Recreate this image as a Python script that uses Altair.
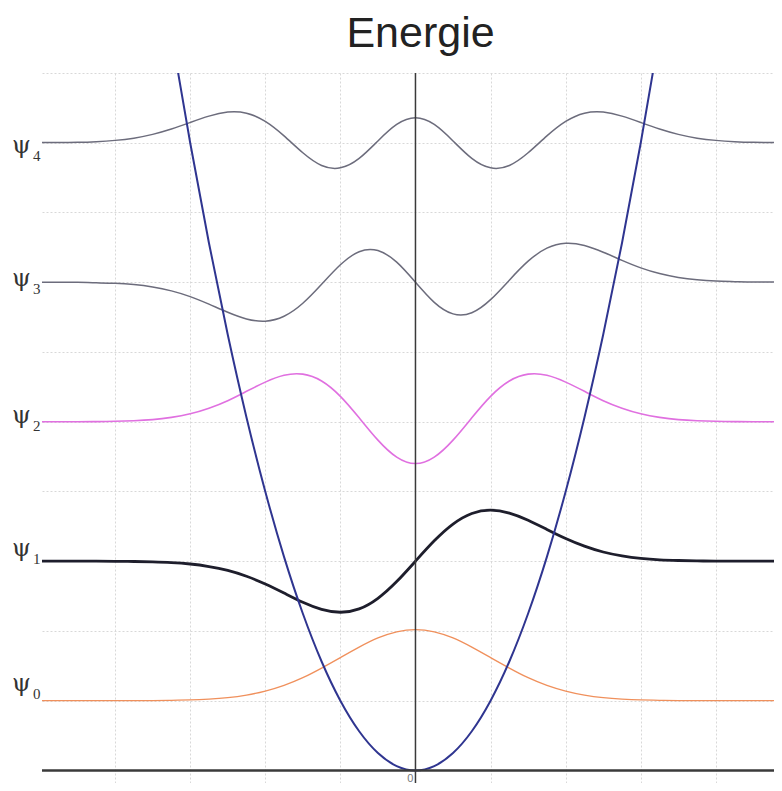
import altair as alt
import pandas as pd

TITLE = "Energie"

# sample positions along x (dimensionless oscillator coordinate)
X = [-5.0, -4.75, -4.5, -4.25, -4.0, -3.75, -3.5, -3.25, -3.0, -2.75, -2.5,
     -2.25, -2.0, -1.75, -1.5, -1.25, -1.0, -0.75, -0.5, -0.25, 0.0,
     0.25, 0.5, 0.75, 1.0, 1.25, 1.5, 1.75, 2.0, 2.25, 2.5,
     2.75, 3.0, 3.25, 3.5, 3.75, 4.0, 4.25, 4.5, 4.75, 5.0]

# wavefunction displacement from its own level (energy units)
PSI0 = [0, 0, 0, 0, 0, 0, 0.001, 0.003, 0.006, 0.012, 0.022, 0.040, 0.069, 0.110,
        0.165, 0.234, 0.309, 0.384, 0.450, 0.494, 0.510,
        0.494, 0.450, 0.384, 0.309, 0.234, 0.165, 0.110, 0.069, 0.040, 0.022,
        0.012, 0.006, 0.003, 0.001, 0, 0, 0, 0, 0, 0]
PSI1 = [0, 0, 0, 0, -0.001, -0.002, -0.005, -0.010, -0.020, -0.038, -0.066, -0.108,
        -0.163, -0.228, -0.294, -0.345, -0.366, -0.342, -0.266, -0.146, 0.0,
        0.146, 0.266, 0.342, 0.366, 0.345, 0.294, 0.228, 0.163, 0.108, 0.066,
        0.038, 0.020, 0.010, 0.005, 0.002, 0.001, 0, 0, 0, 0]
PSI2 = [0, 0, 0, 0.001, 0.003, 0.007, 0.015, 0.031, 0.057, 0.097, 0.151, 0.218,
        0.284, 0.333, 0.341, 0.292, 0.182, 0.028, -0.132, -0.254, -0.300,
        -0.254, -0.132, 0.028, 0.182, 0.292, 0.341, 0.333, 0.284, 0.218, 0.151,
        0.097, 0.057, 0.031, 0.015, 0.007, 0.003, 0.001, 0, 0, 0]
PSI3 = [0, -0.001, -0.001, -0.004, -0.008, -0.017, -0.034, -0.062, -0.103, -0.157,
        -0.215, -0.263, -0.279, -0.244, -0.151, -0.015, 0.125, 0.219, 0.227, 0.144, 0.0,
        -0.144, -0.227, -0.219, -0.125, 0.015, 0.151, 0.244, 0.279, 0.263, 0.215,
        0.157, 0.103, 0.062, 0.034, 0.017, 0.008, 0.004, 0.001, 0.001, 0]
PSI4 = [0.001, 0.001, 0.003, 0.008, 0.017, 0.033, 0.060, 0.098, 0.145, 0.191,
        0.220, 0.212, 0.153, 0.049, -0.072, -0.163, -0.180, -0.112, 0.013, 0.131, 0.179,
        0.131, 0.013, -0.112, -0.180, -0.163, -0.072, 0.049, 0.153, 0.212, 0.220,
        0.191, 0.145, 0.098, 0.060, 0.033, 0.017, 0.008, 0.003, 0.001, 0.001]
PSIS = [PSI0, PSI1, PSI2, PSI3, PSI4]

LEVELS = [0.5, 1.5, 2.5, 3.5, 4.5]
NAMES = ["ψ", "ψ", "ψ", "ψ", "ψ"]
SUBS = ["0", "1", "2", "3", "4"]

# potential curve
PARA_X = [-3.25, -3.0, -2.75, -2.5, -2.25, -2.0, -1.75, -1.5, -1.25, -1.0, -0.75,
          -0.5, -0.25, 0.0, 0.25, 0.5, 0.75, 1.0, 1.25, 1.5, 1.75, 2.0, 2.25,
          2.5, 2.75, 3.0, 3.25]
PARA_V = [5.281, 4.5, 3.781, 3.125, 2.531, 2.0, 1.531, 1.125, 0.781, 0.5, 0.281,
          0.125, 0.031, 0.0, 0.031, 0.125, 0.281, 0.5, 0.781, 1.125, 1.531, 2.0,
          2.531, 3.125, 3.781, 4.5, 5.281]

GRID_X = [-4, -3, -2, -1, 0, 1, 2, 3, 4]
GRID_Y = [0, 0.5, 1, 1.5, 2, 2.5, 3, 3.5, 4, 4.5, 5]

# styles
COLORS = ["#f0905c", "#1e1e2c", "#e070e0", "#6c6c7c", "#6c6c7c"]
WIDTHS = [1.3, 2.8, 1.6, 1.5, 1.5]
LABEL_DY = [-10, -5, 1, 4, 10]

XS = alt.Scale(domain=[-4.973, 4.774], nice=False, zero=False)
YS = alt.Scale(domain=[-0.09, 5.0], nice=False, zero=False)
AX = alt.Axis(values=GRID_X, grid=True, gridColor="#d8d8d8", gridDash=[2, 2],
              gridWidth=1, domain=False, ticks=False, labels=False, title=None)
AY = alt.Axis(values=GRID_Y, grid=True, gridColor="#d8d8d8", gridDash=[2, 2],
              gridWidth=1, domain=False, ticks=False, labels=False, title=None)

layers = []
for n in range(5):
    df = pd.DataFrame({"x": X, "y": [LEVELS[n] + v for v in PSIS[n]]})
    layers.append(
        alt.Chart(df).mark_line(interpolate="natural", clip=True,
                                color=COLORS[n], strokeWidth=WIDTHS[n])
        .encode(x=alt.X("x:Q", scale=XS, axis=AX),
                y=alt.Y("y:Q", scale=YS, axis=AY))
    )

center = alt.Chart(pd.DataFrame({"x": [0]})).mark_rule(
    color="#3a3a3a", strokeWidth=1.5).encode(x=alt.X("x:Q", scale=XS, axis=AX))

para_df = pd.DataFrame({"x": PARA_X, "v": PARA_V})
parabola = alt.Chart(para_df).mark_line(
    interpolate="natural", clip=True, color="#2f3590", strokeWidth=2
).encode(x=alt.X("x:Q", scale=XS, axis=AX), y=alt.Y("v:Q", scale=YS, axis=AY))

base = alt.Chart(pd.DataFrame({"y": [0]})).mark_rule(
    color="#3a3a3a", strokeWidth=2.5).encode(y=alt.Y("y:Q", scale=YS, axis=AY))

title = alt.Chart(pd.DataFrame({"x": [0.067], "t": [TITLE]})).mark_text(
    font="Liberation Sans", fontSize=43, color="#222222",
    align="center", baseline="alphabetic"
).encode(x=alt.X("x:Q", scale=XS, axis=AX), y=alt.value(-26), text="t:N")

zero = alt.Chart(pd.DataFrame({"x": [0], "t": ["0"]})).mark_text(
    font="Liberation Sans", fontSize=11, color="#777777",
    align="right", baseline="alphabetic", dx=-2
).encode(x=alt.X("x:Q", scale=XS, axis=AX), y=alt.value(709), text="t:N")

labels = []
for n in range(5):
    ldf = pd.DataFrame({"y": [LEVELS[n]], "t": [NAMES[n]], "s": [SUBS[n]]})
    labels.append(
        alt.Chart(ldf).mark_text(font="DejaVu Serif", fontSize=24, color="#333333",
                                 align="left", baseline="alphabetic", dy=LABEL_DY[n])
        .encode(x=alt.value(-30), y=alt.Y("y:Q", scale=YS, axis=AY), text="t:N")
    )
    labels.append(
        alt.Chart(ldf).mark_text(font="Liberation Serif", fontSize=15, color="#333333",
                                 align="left", baseline="alphabetic", dy=LABEL_DY[n] + 8)
        .encode(x=alt.value(-9), y=alt.Y("y:Q", scale=YS, axis=AY), text="s:N")
    )

chart = alt.layer(*layers, center, parabola, base, title, zero, *labels).properties(
    width=732, height=710,
    autosize=alt.AutoSizeParams(type="none"),
    padding={"left": 34, "top": 65, "right": 0, "bottom": 0},
    background="white",
).configure_view(stroke=None)

chart.save("out.html", embed_options={"renderer": "svg", "actions": False})
